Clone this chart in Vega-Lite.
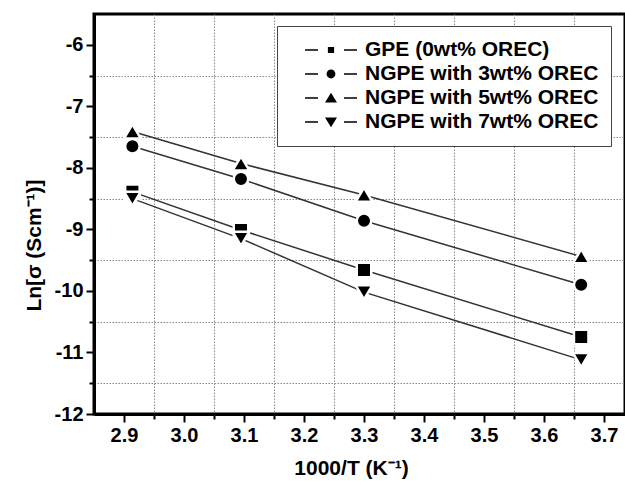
{
  "$schema": "https://vega.github.io/schema/vega-lite/v6.json",
  "width": 531,
  "height": 400,
  "autosize": {"type": "none"},
  "padding": {"left": 94, "top": 14, "right": 0, "bottom": 71},
  "background": "white",
  "config": {
    "view": {"stroke": "black", "strokeWidth": 3},
    "font": "Liberation Sans",
    "axis": {
      "grid": true,
      "gridDash": [1.5, 1.5],
      "gridColor": "#888",
      "gridWidth": 1,
      "domainColor": "black",
      "domainWidth": 3,
      "tickColor": "black",
      "tickWidth": 2,
      "labelFontSize": 20,
      "labelFontWeight": "bold",
      "labelColor": "black",
      "labelOverlap": false,
      "labelFlush": false,
      "titleFontSize": 21,
      "titleFontWeight": "bold",
      "titleColor": "black"
    }
  },
  "data": {
    "values": [
      {"series": "GPE (0wt% OREC)", "x": 2.914, "y": -8.39},
      {"series": "GPE (0wt% OREC)", "x": 3.095, "y": -9.01},
      {"series": "GPE (0wt% OREC)", "x": 3.3, "y": -9.66},
      {"series": "GPE (0wt% OREC)", "x": 3.662, "y": -10.75},
      {"series": "NGPE with 3wt% OREC", "x": 2.914, "y": -7.65},
      {"series": "NGPE with 3wt% OREC", "x": 3.095, "y": -8.18},
      {"series": "NGPE with 3wt% OREC", "x": 3.3, "y": -8.86},
      {"series": "NGPE with 3wt% OREC", "x": 3.662, "y": -9.9},
      {"series": "NGPE with 5wt% OREC", "x": 2.914, "y": -7.41},
      {"series": "NGPE with 5wt% OREC", "x": 3.095, "y": -7.93},
      {"series": "NGPE with 5wt% OREC", "x": 3.3, "y": -8.44},
      {"series": "NGPE with 5wt% OREC", "x": 3.662, "y": -9.44},
      {"series": "NGPE with 7wt% OREC", "x": 2.914, "y": -8.5},
      {"series": "NGPE with 7wt% OREC", "x": 3.095, "y": -9.15},
      {"series": "NGPE with 7wt% OREC", "x": 3.3, "y": -10.02},
      {"series": "NGPE with 7wt% OREC", "x": 3.662, "y": -11.12}
    ]
  },
  "encoding": {
    "x": {
      "field": "x",
      "type": "quantitative",
      "scale": {"domain": [2.85, 3.735], "nice": false, "zero": false},
      "axis": {
        "title": "1000/T (K⁻¹)",
        "values": [2.9, 2.95, 3.0, 3.05, 3.1, 3.15, 3.2, 3.25, 3.3, 3.35, 3.4, 3.45, 3.5, 3.55, 3.6, 3.65, 3.7],
        "labelExpr": "abs(round(datum.value*20)) % 2 === 0 ? format(datum.value, '.1f') : ''",
        "gridOpacity": {"condition": {"test": "abs(round(datum.value*20)) % 2 === 1", "value": 1}, "value": 0},
        "tickSize": {"condition": {"test": "abs(round(datum.value*20)) % 2 === 1", "value": 5}, "value": 8},
        "labelPadding": 3,
        "titlePadding": 12,
        "titleX": 257
      }
    },
    "y": {
      "field": "y",
      "type": "quantitative",
      "scale": {"domain": [-12, -5.5], "nice": false, "zero": false},
      "axis": {
        "title": "Ln[σ (Scm⁻¹)]",
        "values": [-12, -11.5, -11, -10.5, -10, -9.5, -9, -8.5, -8, -7.5, -7, -6.5, -6],
        "labelExpr": "abs(round(datum.value*2)) % 2 === 0 ? '' + datum.value : ''",
        "gridOpacity": {"condition": {"test": "abs(round(datum.value*2)) % 2 === 1", "value": 1}, "value": 0},
        "tickSize": {"condition": {"test": "abs(round(datum.value*2)) % 2 === 1", "value": 5}, "value": 8},
        "labelPadding": 3,
        "titlePadding": 10,
        "titleY": 231
      }
    }
  },
  "layer": [
    {
      "mark": {"type": "line", "color": "#333", "strokeWidth": 1.5},
      "encoding": {"detail": {"field": "series", "type": "nominal"}}
    },
    {
      "mark": {"type": "point", "filled": true, "color": "black", "size": 210, "stroke": "white", "strokeWidth": 2.5, "strokeOpacity": 1, "opacity": 1},
      "encoding": {
        "shape": {
          "field": "series",
          "type": "nominal",
          "scale": {
            "domain": ["GPE (0wt% OREC)", "NGPE with 3wt% OREC", "NGPE with 5wt% OREC", "NGPE with 7wt% OREC"],
            "range": ["square", "circle", "M0,-1L1.15,0.95H-1.15Z", "M0,1L1.15,-0.95H-1.15Z"]
          },
          "legend": null
        }
      }
    },
    {
      "mark": {"type": "point", "filled": true, "color": "black", "opacity": 0},
      "encoding": {
        "shape": {
          "field": "series",
          "type": "nominal",
          "scale": {
            "domain": ["GPE (0wt% OREC)", "NGPE with 3wt% OREC", "NGPE with 5wt% OREC", "NGPE with 7wt% OREC"],
            "range": [
              "M-1,-0.03H-0.5V0.03H-1ZM0.5,-0.03H1V0.03H0.5ZM-0.12,-0.12H0.12V0.12H-0.12Z",
              "M-1,-0.03H-0.5V0.03H-1ZM0.5,-0.03H1V0.03H0.5ZM-0.17,0A0.17,0.17 0 1,0 0.17,0A0.17,0.17 0 1,0 -0.17,0Z",
              "M-1,-0.03H-0.5V0.03H-1ZM0.5,-0.03H1V0.03H0.5ZM0,-0.2L0.23,0.17H-0.23Z",
              "M-1,-0.03H-0.5V0.03H-1ZM0.5,-0.03H1V0.03H0.5ZM0,0.2L0.23,-0.17H-0.23Z"
            ]
          },
          "legend": {
            "title": null,
            "orient": "none",
            "legendX": 183,
            "legendY": 12,
            "padding": 12,
            "strokeColor": "#444",
            "fillColor": "white",
            "symbolSize": 2704,
            "symbolStrokeWidth": 0,
            "symbolFillColor": "black",
            "symbolOpacity": 1,
            "symbolOffset": 16,
            "labelOffset": 8,
            "labelFontSize": 21,
            "labelFontWeight": "bold",
            "labelColor": "black",
            "labelLimit": 400,
            "clipHeight": 24,
            "rowPadding": 0,
            "labelExpr": "datum.label + '\u00a0\u00a0\u00a0'"
          }
        }
      }
    }
  ],
  "resolve": {"scale": {"shape": "independent"}, "legend": {"shape": "independent"}}
}
